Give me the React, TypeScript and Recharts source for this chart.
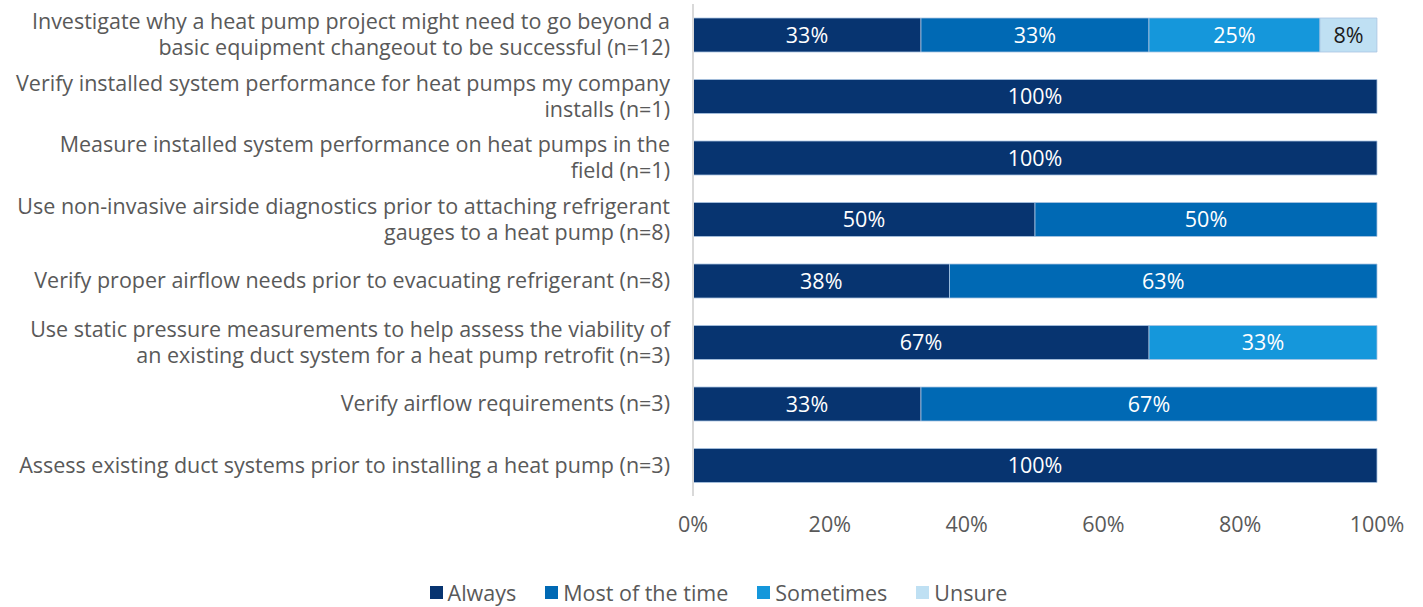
import React from 'react';
import { BarChart, Bar, XAxis, YAxis, Legend, LabelList } from 'recharts';

// Survey items, top to bottom ("\n" marks the wrap point of the tick label)
const categories = [
  'Investigate why a heat pump project might need to go beyond a\nbasic equipment changeout to be successful (n=12)',
  'Verify installed system performance for heat pumps my company\ninstalls (n=1)',
  'Measure installed system performance on heat pumps in the\nfield (n=1)',
  'Use non-invasive airside diagnostics prior to attaching refrigerant\ngauges to a heat pump (n=8)',
  'Verify proper airflow needs prior to evacuating refrigerant (n=8)',
  'Use static pressure measurements to help assess the viability of\nan existing duct system for a heat pump retrofit (n=3)',
  'Verify airflow requirements (n=3)',
  'Assess existing duct systems prior to installing a heat pump (n=3)',
];

// Share of respondents (%) per answer
const always = [33.33, 100, 100, 50, 37.5, 66.67, 33.33, 100];
const mostOfTheTime = [33.33, 0, 0, 50, 62.5, 0, 66.67, 0];
const sometimes = [25, 0, 0, 0, 0, 33.33, 0, 0];
const unsure = [8.33, 0, 0, 0, 0, 0, 0, 0];

const xTicks = [0, 20, 40, 60, 80, 100];

const series = [
  { key: 'always', name: 'Always', color: '#073470', label: '#ffffff' },
  { key: 'most', name: 'Most of the time', color: '#0069b4', label: '#ffffff' },
  { key: 'sometimes', name: 'Sometimes', color: '#1597db', label: '#ffffff' },
  { key: 'unsure', name: 'Unsure', color: '#bfe0f3', label: '#1a1a1a' },
];

const data = categories.map((name, i) => ({
  name,
  always: always[i],
  most: mostOfTheTime[i],
  sometimes: sometimes[i],
  unsure: unsure[i],
}));

const FONT = '"Open Sans", "Liberation Sans", Arial, sans-serif';
const TEXT = '#595959';
const FS = 21.5;

function CategoryTick(props: any) {
  const { x, y, payload } = props;
  const lines: string[] = String(payload.value).split('\n');
  const lh = 26;
  const startY = y - ((lines.length - 1) * lh) / 2;
  return (
    <text x={x - 23} y={startY} textAnchor="end" fill={TEXT} fontSize={FS} fontFamily={FONT}>
      {lines.map((ln, i) => (
        <tspan key={i} x={x - 23} y={startY + i * lh} dy="0.35em">
          {ln}
        </tspan>
      ))}
    </text>
  );
}

function LegendContent() {
  return (
    <div
      style={{
        height: 30,
        display: 'flex',
        justifyContent: 'center',
        alignItems: 'center',
        gap: 29,
        fontFamily: FONT,
        fontSize: FS,
        color: TEXT,
        paddingLeft: 60,
      }}
    >
      {series.map((s) => (
        <span key={s.key} style={{ display: 'flex', alignItems: 'center' }}>
          <span style={{ width: 13, height: 13, background: s.color, marginRight: 5, display: 'inline-block' }} />
          {s.name}
        </span>
      ))}
    </div>
  );
}

const fmt = (v: any) => (Number(v) > 0 ? `${Math.round(Number(v))}%` : '');

export default function App() {
  return (
    <div style={{ width: 1423, height: 607 }}>
      <style>{'body{margin:0}'}</style>
      <BarChart
        width={1423}
        height={607}
        data={data}
        layout="vertical"
        margin={{ top: 4, right: 46, bottom: 0, left: 0 }}
        barCategoryGap={0}
        barSize={34}
      >
        <XAxis
          type="number"
          domain={[0, 100]}
          ticks={xTicks}
          tickFormatter={(v) => `${v}%`}
          axisLine={false}
          tickLine={false}
          tickSize={0}
          tickMargin={21}
          height={81}
          tick={{ fill: TEXT, fontSize: FS, fontFamily: FONT }}
        />
        <YAxis
          type="category"
          dataKey="name"
          width={693}
          axisLine={{ stroke: '#d9d9d9', strokeWidth: 2 }}
          tickLine={false}
          tickSize={0}
          tickMargin={0}
          interval={0}
          tick={<CategoryTick />}
        />
        <Legend verticalAlign="bottom" content={<LegendContent />} />
        {series.map((s) => (
          <Bar
            key={s.key}
            dataKey={s.key}
            name={s.name}
            stackId="a"
            fill={s.color}
            stroke="#a9c4e2"
            strokeWidth={0.8}
            isAnimationActive={false}
          >
            <LabelList
              dataKey={s.key}
              position="center"
              formatter={fmt}
              fill={s.label}
              fontSize={FS}
              fontFamily={FONT}
            />
          </Bar>
        ))}
      </BarChart>
    </div>
  );
}
